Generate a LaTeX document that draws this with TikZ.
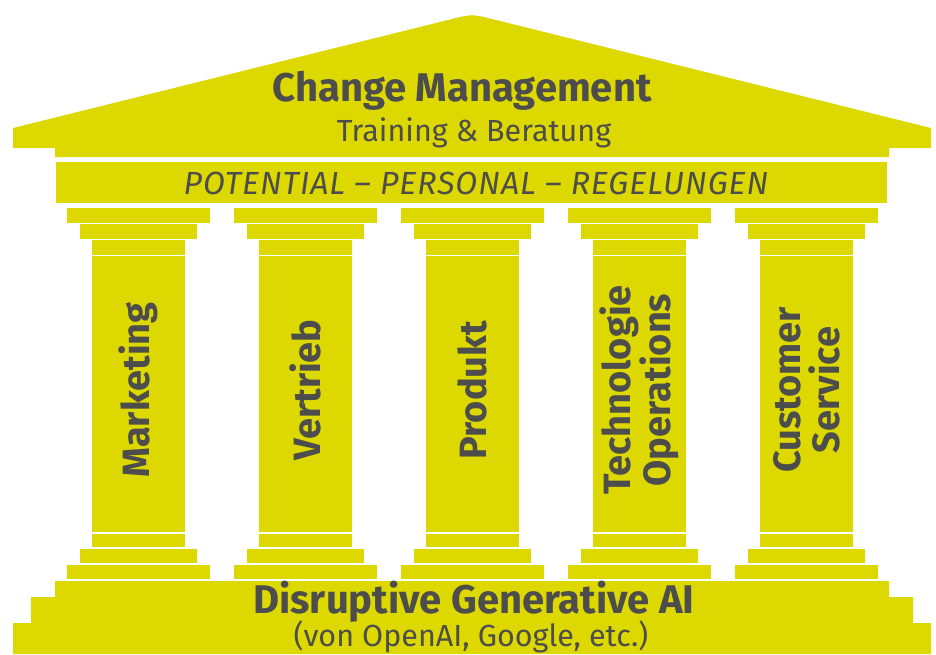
\documentclass[tikz,border=0pt]{standalone}
\usepackage{fontspec}
\setmainfont{Fira Sans}
\definecolor{tempelgelb}{RGB}{221,217,0}
\definecolor{schrift}{RGB}{77,77,77}

\begin{document}
\begin{tikzpicture}[x=1pt, y=-1pt,
    block/.style={fill=tempelgelb},
    kopf/.style={text=schrift, inner sep=0pt, anchor=base, font=\bfseries\fontsize{40}{44}\selectfont},
    unter/.style={text=schrift, inner sep=0pt, anchor=base, font=\fontsize{30.5}{34}\selectfont},
    saeule/.style={text=schrift, inner sep=0pt, rotate=90, align=center, font=\bfseries\fontsize{38}{39}\selectfont}]
    \useasboundingbox (0,0) rectangle (936,654);

    % Dach
    \fill[tempelgelb] (13,148) -- (13,128) -- (452,19) .. controls (472,14) .. (492,19) -- (931,128) -- (931,148) -- (889,148) -- (889,157) -- (55,157) -- (55,148) -- cycle;
    \fill[block] (56,162) rectangle (887,203);

    % Saeulen
    \foreach \cx/\txt [count=\i] in {138.5/Marketing, 305.5/Vertrieb, 472.5/Produkt, 639.5/{Technologie\\Operations}, 806.5/{Customer\\Service}} {
        \fill[block] (\cx-71.5,208) rectangle (\cx+71.5,222.5);
        \fill[block] (\cx-58.5,224) rectangle (\cx+58.5,238.5);
        \fill[block] (\cx-46.5,240) rectangle (\cx+46.5,254.5);
        \fill[block] (\cx-46.5,256) rectangle (\cx+46.5,532);
        \fill[block] (\cx-46.5,533.5) rectangle (\cx+46.5,547);
        \fill[block] (\cx-58.5,548.5) rectangle (\cx+58.5,563);
        \fill[block] (\cx-71.5,564.5) rectangle (\cx+71.5,579);
        \node[saeule] (saeule\i) at (\cx,390) {\txt};
    }

    % Stufen
    \fill[block] (55,581) -- (889,581) -- (889,597) -- (913,597) -- (913,623) -- (931,623) -- (931,654) -- (13,654) -- (13,623) -- (31,623) -- (31,597) -- (55,597) -- cycle;

    \node[kopf] (dach) at (462,101) {Change Management};
    \node[unter] (dachunter) at (474,141) {Training \& Beratung};
    \node[unter, font=\itshape\fontsize{32}{36}\selectfont\addfontfeatures{LetterSpace=3}] (gebaelk) at (476,194) {POTENTIAL -- PERSONAL -- REGELUNGEN};
    \node[kopf] (basis) at (474,613) {Disruptive Generative AI};
    \node[unter] (basisunter) at (471,646) {(von OpenAI, Google, etc.)};
\end{tikzpicture}
\end{document}
